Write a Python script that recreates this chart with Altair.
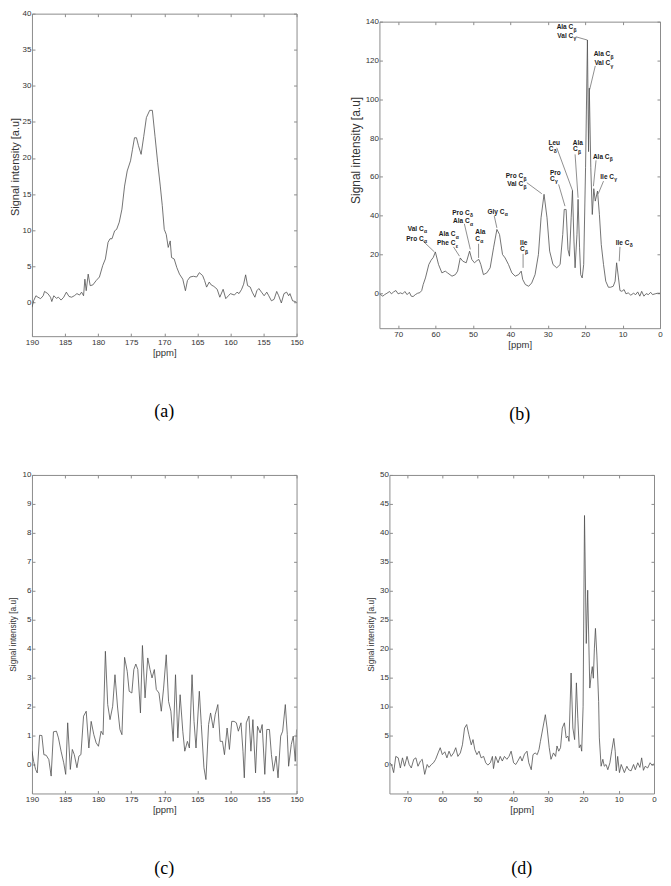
import altair as alt
import pandas as pd

# ---------------- data ----------------
# (a) carbonyl region, 190-150 ppm
a_ppm = [190.0, 189.75, 189.4, 189.1, 188.7, 188.3, 188.1, 187.6, 187.2, 187.0, 186.7, 186.3, 186.0, 185.6,
         185.2, 184.8, 184.4, 184.0, 183.6, 183.2, 182.8, 182.5, 182.2, 182.0, 181.8, 181.5, 181.2, 180.8,
         180.3, 179.8, 179.3, 178.9, 178.5, 178.2, 177.9, 177.5, 177.2, 176.8, 176.4, 176.0, 175.6, 175.1,
         174.8, 174.5, 174.2, 173.9, 173.5, 173.1, 172.7, 172.2, 171.8, 171.4, 171.0, 170.6, 170.3, 170.0,
         169.7, 169.4, 169.1, 168.9, 168.5, 168.1, 167.7, 167.2, 166.8, 166.5, 166.1, 165.6, 165.1, 164.7,
         164.2, 163.9, 163.6, 163.2, 162.9, 162.5, 162.0, 161.6, 161.1, 160.7, 160.3, 160.0, 159.4, 159.0,
         158.7, 158.3, 158.0, 157.7, 157.4, 157.0, 156.7, 156.3, 156.0, 155.7, 155.3, 154.9, 154.5, 154.2,
         153.8, 153.4, 153.0, 152.7, 152.3, 151.9, 151.5, 151.2, 151.0, 150.6, 150.2, 150.0]
a_val = [-0.7, 0.2, 0.9, 0.7, 0.5, 0.9, 1.5, 1.2, 0.7, 0.1, 0.9, 0.55, 0.7, 0.3,
         0.7, 1.4, 0.8, 0.7, 0.9, 1.2, 1.0, 1.4, 0.9, 3.2, 1.6, 3.9, 2.3, 2.4,
         3.0, 3.5, 5.1, 6.0, 8.3, 8.8, 8.8, 9.9, 10.1, 11.1, 12.9, 16.1, 18.2, 19.6,
         21.2, 22.8, 22.8, 21.7, 20.5, 23.0, 25.6, 26.6, 26.6, 23.0, 19.4, 16.1, 13.4, 10.1,
         9.4, 7.6, 8.5, 6.2, 6.0, 4.8, 3.9, 3.2, 1.6, 3.0, 3.5, 3.6, 3.5, 4.1,
         3.7, 3.0, 2.1, 2.8, 2.4, 2.2, 1.8, 0.7, 1.8, 0.5, 0.9, 1.2, 1.0, 1.4,
         1.2, 1.8, 2.5, 3.8, 2.3, 2.1, 1.4, 0.7, 1.6, 1.9, 1.4, 0.9, 1.4, 0.9,
         0.2, 0.4, 1.5, 0.9, -0.1, 1.2, 1.4, 0.9, 1.2, 0.2, 0.1, 0.0]

# (b) aliphatic region, 75-0 ppm
b_ppm = [75.0, 74.7, 74.1, 73.6, 73.0, 72.3, 71.8, 71.2, 70.6, 70.0, 69.4, 68.8, 68.2, 67.6, 67.0, 66.5,
         66.0, 65.4, 64.8, 64.2, 63.7, 63.3, 62.7, 61.8, 61.2, 60.6, 60.05, 59.2, 58.3, 57.4, 56.8, 55.6,
         54.7, 54.1, 53.4, 52.7, 51.8, 50.9, 50.3, 49.6, 48.9, 48.4, 47.9, 47.2, 46.3, 45.4, 44.5, 43.6,
         42.9, 42.1, 41.4, 40.5, 39.6, 38.7, 37.8, 37.1, 36.7, 36.0, 35.1, 34.3, 33.4, 32.5, 31.8, 31.0,
         30.2, 29.5, 28.6, 27.6, 26.7, 26.0, 25.6, 25.1, 24.6, 24.2, 23.75, 23.4, 23.0, 22.7, 22.2, 21.9,
         21.5, 21.2, 20.8, 20.4, 19.9, 19.4, 19.1, 18.9, 18.5, 18.1, 17.7, 17.3, 16.7, 16.2, 15.7, 15.1,
         14.5, 13.8, 13.2, 12.5, 12.0, 11.6, 11.1, 10.7, 10.2, 9.6, 9.1, 8.5, 7.8, 7.1, 6.5, 5.96,
         5.4, 4.9, 4.3, 3.7, 3.1, 2.5, 2.0, 1.3, 0.7, 0.0]
b_val = [-0.3, -0.7, -1.5, -0.7, 0.0, 0.9, -0.3, 0.7, 1.4, -0.3, 0.2, -0.3, 0.9, -0.7, 0.5, -1.5,
         -1.7, -0.7, 0.0, 0.3, 1.4, 4.5, 7.9, 14.8, 17.0, 18.5, 21.3, 14.8, 10.5, 11.4, 10.5, 8.8,
         9.6, 11.4, 18.2, 16.5, 15.7, 21.7, 17.4, 15.7, 16.9, 17.4, 14.8, 9.6, 10.5, 13.1, 23.4, 32.9,
         30.3, 20.0, 18.2, 14.8, 10.5, 8.8, 9.6, 11.4, 7.1, 4.5, 3.6, 5.3, 9.6, 20.0, 38.9, 51.0,
         38.9, 21.7, 14.8, 13.1, 14.8, 30.3, 43.2, 43.2, 22.5, 19.1, 38.9, 53.0, 26.9, 13.1, 30.3, 48.4,
         23.4, 9.6, 7.9, 14.8, 64.7, 130.5, 73.0, 105.7, 64.7, 40.6, 53.9, 47.5, 52.7, 40.6, 25.1, 14.8,
         6.2, 3.1, 3.1, 3.6, 6.2, 15.7, 7.9, 1.4, 1.0, 1.9, -0.3, 0.2, -1.0, 0.0, -0.7, 0.7,
         -1.5, 1.0, -1.5, -0.2, -0.7, 0.5, -0.7, -0.3, 0.0, 0.0]

# (c) carbonyl region, 190-150 ppm
c_ppm = [190.0, 189.75, 189.45, 189.2, 188.85, 188.5, 188.2, 187.85, 187.45, 187.1, 186.75, 186.3, 186.0,
         185.6, 185.2, 184.9, 184.6, 184.2, 183.9, 183.6, 183.2, 182.9, 182.6, 182.2, 181.8, 181.4, 181.05,
         180.65, 180.3, 179.95, 179.55, 179.25, 178.9, 178.55, 178.2, 177.8, 177.45, 177.05, 176.7, 176.4,
         176.0, 175.6, 175.3, 174.9, 174.6, 174.3, 174.0, 173.6, 173.3, 172.9, 172.5, 172.15, 171.85, 171.5,
         171.2, 170.8, 170.45, 170.1, 169.7, 169.35, 169.0, 168.65, 168.3, 167.95, 167.6, 167.2, 166.9,
         166.5, 166.2, 165.8, 165.5, 165.2, 164.7, 164.4, 164.0, 163.7, 163.3, 163.0, 162.6, 162.3, 161.9,
         161.55, 161.2, 160.9, 160.5, 160.15, 159.8, 159.45, 159.1, 158.8, 158.4, 158.1, 157.9, 157.6,
         157.2, 156.9, 156.6, 156.2, 155.9, 155.5, 155.2, 154.8, 154.5, 154.1, 153.8, 153.5, 153.1, 152.8,
         152.4, 152.1, 151.7, 151.4, 151.2, 150.8, 150.5, 150.2, 150.0]
c_val = [0.46, 0.11, -0.17, -0.29, 1.01, 1.0, 0.34, 0.32, 0.17, -0.4, 1.13, 1.15, 0.92,
         0.46, 0.06, -0.34, 1.44, -0.17, 0.52, 0.34, -0.11, 0.29, 0.34, 1.67, 1.84, 0.57, 1.49,
         1.03, 0.75, 0.63, 1.15, 1.03, 3.91, 2.07, 1.55, 2.01, 3.10, 1.95, 1.21, 1.03,
         3.70, 3.22, 2.53, 2.47, 3.28, 3.47, 3.28, 1.78, 4.11, 2.30, 3.68, 3.28, 2.99, 3.28,
         2.59, 2.47, 1.84, 2.64, 3.79, 2.18, 1.84, 0.80, 3.10, 0.92, 2.41, 1.15, 0.46,
         0.80, 0.57, 3.10, 1.49, 0.57, 2.53, 1.38, -0.11, -0.52, 1.38, 1.78, 1.26, 1.72, 2.07,
         0.80, 0.80, 0.34, 1.26, 0.52, 1.49, 1.49, 1.44, 1.15, 1.44, 0.46, -0.46, 1.44,
         1.67, 0.46, 1.55, -0.29, 1.32, 1.09, 1.38, -0.34, 1.21, 1.21, 0.34, -0.23, 0.29, -0.46,
         0.98, 1.15, 2.07, 1.03, -0.06, 0.69, 0.98, 0.11, 1.21]

# (d) aliphatic region, 75-0 ppm
d_ppm = [75.0, 74.4, 73.8, 73.2, 72.5, 71.9, 71.3, 70.7, 70.0, 69.4, 68.8, 68.1, 67.5, 66.9, 66.2, 65.7,
         65.0, 64.3, 63.8, 63.1, 62.5, 61.9, 61.2, 60.6, 60.0, 59.3, 58.7, 58.1, 57.5, 56.8, 56.2, 55.6,
         54.9, 54.3, 53.7, 53.1, 52.5, 51.8, 51.3, 50.8, 50.2, 49.6, 49.0, 48.3, 47.7, 47.1, 46.4, 45.8,
         45.5, 44.9, 44.2, 43.6, 43.0, 42.4, 41.7, 41.1, 40.5, 39.8, 39.2, 38.6, 37.9, 37.4, 36.7, 36.0,
         35.5, 34.8, 34.3, 33.7, 33.1, 32.6, 32.2, 31.5, 30.8, 30.3, 29.7, 29.2, 28.5, 27.9, 27.5, 27.0,
         26.5, 26.0, 25.4, 24.9, 24.4, 24.1, 23.5, 23.0, 22.5, 22.0, 21.6, 21.2, 20.8, 20.5, 20.1, 19.7,
         19.2, 18.8, 18.2, 17.8, 17.5, 17.2, 16.9, 16.6, 16.2, 15.7, 15.5, 15.0, 14.5, 14.1, 13.6, 13.1,
         12.5, 12.0, 11.4, 11.0, 10.7, 10.3, 9.8, 9.3, 8.9, 8.4, 7.7, 7.2, 6.5, 5.8, 5.3, 4.6, 4.0, 3.5,
         3.0, 2.5, 1.8, 1.1, 0.6, 0.0]
d_val = [0.3, 0.0, -1.4, 1.4, 1.15, -0.6, 1.15, -0.3, 1.4, 0.0, -0.6, 0.9, 1.15, -0.3, 0.6, 0.9,
         -1.7, 0.0, -0.5, 0.0, 0.3, 0.9, 2.0, 2.9, 1.7, 2.2, 1.15, 2.3, 1.4, 2.0, 2.9, 1.4,
         2.0, 3.4, 6.3, 6.9, 5.2, 3.4, 4.3, 2.6, 1.7, 2.3, 1.15, 1.4, 0.3, -0.1, 0.3, 1.4,
         -0.7, 1.4, 0.3, 1.4, 0.6, 1.4, 0.9, 1.4, 2.3, 0.3, 0.0, 0.6, 1.4, 0.6, 1.8, 2.3,
         0.3, -0.9, 1.7, 2.0, 1.7, 2.6, 4.0, 6.3, 8.6, 6.3, 2.9, 0.9, 2.0, 1.4, 3.2, 2.3,
         2.9, 6.3, 7.2, 4.6, 4.9, 4.0, 15.8, 6.3, 4.3, 14.1, 8.0, 2.9, 3.4, 2.3, 10.0, 43.0,
         20.9, 30.1, 13.2, 15.5, 16.9, 14.9, 20.1, 23.5, 18.9, 10.9, 4.6, -0.3, 0.9, -0.3, 0.0, -0.9,
         0.3, 2.3, 4.5, 2.3, -1.1, 1.4, -1.4, 0.0, -0.6, -1.4, -0.3, -0.9, -1.1, 0.0, -0.9, 0.3, -0.5, 1.15,
         -1.0, -0.3, -0.6, 0.3, -0.1, 0.1]

# peak assignments in (b)
lab_x = [23.2, 23.2, 13.3, 13.3, 13.5, 12.3, 8.2, 36.6, 36.6, 41.6, 50.9, 50.9, 54.7, 54.7, 63.2, 63.2,
         28.5, 22.0, 28.15, 36.15, 48.15]
lab_y = [137.0, 132.7, 123.2, 118.6, 70.4, 60.0, 26.0, 60.4, 56.1, 42.0, 41.5, 37.2, 30.3, 25.7, 33.2, 28.2,
         74.5, 74.3, 58.9, 22.6, 28.2]
lab_main = ["Ala C", "Val C", "Ala C", "Val C", "Ala C", "Ile C", "Ile C", "Pro C", "Val C", "Gly C",
            "Pro C", "Ala C", "Ala C", "Phe C", "Val C", "Pro C", "C", "C", "C", "C", "C"]
lab_sub = ["β", "γ", "β", "γ", "β", "γ", "δ", "β", "β", "α", "δ", "α", "α", "ε", "α", "α",
           "δ", "β", "γ", "β", "α"]
top_x = [29.8, 23.3, 29.4, 37.4, 49.4]
top_y = [77.3, 77.3, 61.8, 26.0, 31.6]
top_text = ["Leu", "Ala", "Pro", "Ile", "Ala"]
lead_x1 = [22.5, 17.3, 27.6, 22.7, 27.1, 17.1, 15.1, 10.7, 35.6, 44.3, 36.6, 52.3, 48.5, 55.2, 63.3]
lead_y1 = [132.2, 117.2, 75.0, 71.6, 56.1, 68.5, 57.8, 23.9, 57.0, 39.8, 20.3, 35.8, 25.5, 23.9, 26.8]
lead_x2 = [19.4, 18.8, 23.4, 21.9, 25.4, 17.8, 16.5, 10.9, 31.6, 43.6, 36.6, 50.7, 48.5, 53.6, 60.3]
lead_y2 = [130.5, 105.0, 53.0, 49.2, 44.9, 55.2, 51.3, 16.5, 51.3, 33.7, 13.1, 22.6, 18.2, 19.1, 21.3]

a_xticks = [150, 155, 160, 165, 170, 175, 180, 185, 190]
b_xticks = [0, 10, 20, 30, 40, 50, 60, 70]
a_yticks = [0, 5, 10, 15, 20, 25, 30, 35, 40]
b_yticks = [0, 20, 40, 60, 80, 100, 120, 140]
c_yticks = [0, 1, 2, 3, 4, 5, 6, 7, 8, 9, 10]
d_yticks = [0, 5, 10, 15, 20, 25, 30, 35, 40, 45, 50]

# ---------------- styling ----------------
LINE = '#505050'
FRAME = '#8c8c8c'
TEXT = '#333333'
SANS = 'Liberation Sans'
SERIF = 'Liberation Serif'
LAB_FS = 8
XT_FS = 9.5


def axis_kw(pad):
    return dict(domain=False, offset=-3, tickSize=3, tickColor=FRAME, tickWidth=1,
                labelFont=SANS, labelFontSize=LAB_FS, labelColor=TEXT, labelPadding=pad,
                labelFlush=False, labelOverlap=False, grid=False)


def panel(ppm, val, xdom, xticks, ydom, yticks, w, h, ytfs, ytpad, ty, caption, cap_offset, extra=()):
    df = pd.DataFrame({'ppm': ppm, 'val': val})
    xs = alt.Scale(domain=xdom, reverse=True, nice=False, zero=False)
    ys = alt.Scale(domain=ydom, nice=False, zero=False)
    line = alt.Chart(df).mark_line(color=LINE, strokeWidth=0.8, clip=True).encode(
        x=alt.X('ppm:Q', scale=xs,
                axis=alt.Axis(orient='bottom', values=xticks, title='[ppm]', titleFont=SANS,
                              titleFontSize=XT_FS, titleFontWeight='normal', titleColor=TEXT,
                              titlePadding=1, **axis_kw(2))),
        y=alt.Y('val:Q', scale=ys,
                axis=alt.Axis(orient='left', values=yticks, title='Signal intensity [a.u]',
                              titleFont=SANS, titleFontSize=ytfs, titleFontWeight='normal',
                              titleColor=TEXT, titlePadding=ytpad, titleY=ty, **axis_kw(1))),
    )
    ticks2 = alt.Chart(df).mark_line(strokeOpacity=0).encode(
        x=alt.X('ppm:Q', scale=xs,
                axis=alt.Axis(orient='top', values=xticks, labels=False, title=None, **axis_kw(2))),
        y=alt.Y('val:Q', scale=ys,
                axis=alt.Axis(orient='right', values=yticks, labels=False, title=None, **axis_kw(2))),
    )
    layers = [line, ticks2] + [e(xs, ys) for e in extra]
    return alt.layer(*layers).resolve_axis(x='independent', y='independent').properties(
        width=w, height=h,
        title=alt.TitleParams(caption, orient='bottom', font=SERIF, fontSize=18,
                              fontWeight='normal', color='black', offset=cap_offset))


def leaders(xs, ys):
    df = pd.DataFrame({'x1': lead_x1, 'y1': lead_y1, 'x2': lead_x2, 'y2': lead_y2})
    return alt.Chart(df).mark_rule(color='#444444', strokeWidth=0.6).encode(
        x=alt.X('x1:Q', scale=xs, axis=None), x2='x2:Q',
        y=alt.Y('y1:Q', scale=ys, axis=None), y2='y2:Q')


def main_labels(xs, ys):
    df = pd.DataFrame({'x': lab_x, 'y': lab_y, 't': lab_main})
    return alt.Chart(df).mark_text(font=SANS, fontWeight='bold', fontSize=6.5, align='right',
                                   baseline='middle', color='#1a1a1a').encode(
        x=alt.X('x:Q', scale=xs, axis=None), y=alt.Y('y:Q', scale=ys, axis=None), text='t:N')


def sub_labels(xs, ys):
    df = pd.DataFrame({'x': lab_x, 'y': lab_y, 't': lab_sub})
    return alt.Chart(df).mark_text(font=SANS, fontWeight='bold', fontSize=5, align='left',
                                   baseline='middle', dy=2.5, dx=0.3, color='#1a1a1a').encode(
        x=alt.X('x:Q', scale=xs, axis=None), y=alt.Y('y:Q', scale=ys, axis=None), text='t:N')


def top_labels(xs, ys):
    df = pd.DataFrame({'x': top_x, 'y': top_y, 't': top_text})
    return alt.Chart(df).mark_text(font=SANS, fontWeight='bold', fontSize=6.5, align='left',
                                   baseline='middle', color='#1a1a1a').encode(
        x=alt.X('x:Q', scale=xs, axis=None), y=alt.Y('y:Q', scale=ys, axis=None), text='t:N')


pa = panel(a_ppm, a_val, [150, 190], a_xticks, [-4.7, 40], a_yticks, 265, 323, 11, 2, 153,
           '(a)', 46)
pb = panel(b_ppm, b_val, [0, 75], b_xticks, [-18, 140], b_yticks, 281, 307, 12, 3, 128.5,
           '(b)', 57, extra=(leaders, main_labels, sub_labels, top_labels))
pc = panel(c_ppm, c_val, [150, 190], a_xticks, [-1, 10], c_yticks, 265, 319, 8.3, 4.5, 159.5,
           '(c)', 46)
pd_ = panel(d_ppm, d_val, [0, 75], b_xticks, [-5, 50], d_yticks, 265, 319, 8.3, 4.5, 159.5,
            '(d)', 46)

spacer = alt.Chart(pd.DataFrame({'s': [0]})).mark_rect(opacity=0).encode(
    x=alt.value(0), x2=alt.value(1), y=alt.value(0), y2=alt.value(3)
).properties(width=1, height=3, view=alt.ViewBackground(strokeOpacity=0))

top = alt.hconcat(pa, alt.vconcat(spacer, pb, spacing=0), spacing=44)
bottom = alt.hconcat(pc, pd_, spacing=61)
chart = alt.vconcat(top, bottom, spacing=46).properties(padding=0, background='white').configure_view(
    stroke=FRAME, strokeWidth=1)

chart.save("out.html", embed_options={"renderer": "svg", "actions": False})
